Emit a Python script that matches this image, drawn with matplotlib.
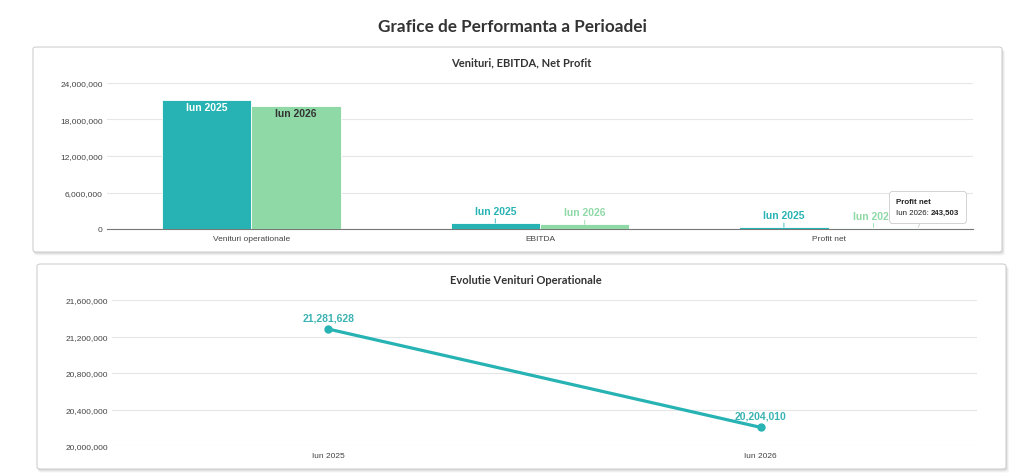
import matplotlib.pyplot as plt
import numpy as np
from matplotlib.patches import FancyBboxPatch
from matplotlib.ticker import FuncFormatter, MultipleLocator
from matplotlib.offsetbox import TextArea, HPacker, VPacker, AnnotationBbox

plt.rcParams['font.family'] = ['Liberation Sans', 'DejaVu Sans']

# data
categories = ["Venituri operationale", "EBITDA", "Profit net"]
periods = ["Iun 2025", "Iun 2026"]
values_2025 = [21281628, 990000, 300000]
values_2026 = [20204010, 770000, 243503]
evol_labels = ["Iun 2025", "Iun 2026"]
evol_values = [21281628, 20204010]

teal = "#27b3b3"
green = "#8fd9a6"

fig = plt.figure(figsize=(10.24, 4.77), dpi=100)
fig.patch.set_facecolor("white")
W, H = 1024.0, 477.0


def card(x0, y0, x1, y1, title):
    # shadow then card, pixel coords from top-left
    for i, a in enumerate([0.06, 0.05, 0.04]):
        sh = FancyBboxPatch(((x0 + 1) / W, 1 - (y1 + 1.5 + i) / H), (x1 - x0 + i) / W, (y1 - y0) / H,
                            boxstyle="round,pad=0,rounding_size=0.004",
                            transform=fig.transFigure, facecolor="black", alpha=a,
                            edgecolor="none", zorder=0)
        fig.add_artist(sh)
    c = FancyBboxPatch((x0 / W, 1 - y1 / H), (x1 - x0) / W, (y1 - y0) / H,
                       boxstyle="round,pad=0,rounding_size=0.004",
                       transform=fig.transFigure, facecolor="white",
                       edgecolor="#d0d0d0", linewidth=0.8, zorder=0.5)
    fig.add_artist(c)
    fig.text((x0 + x1) / 2 / W + 0.004, 1 - (y0 + 15) / H, title, ha="center", va="center",
             fontsize=8, fontweight="bold", color="#333333", family=["Lato", "DejaVu Sans"], zorder=1)


card(33, 48, 1002, 253, "Venituri, EBITDA, Net Profit")
card(37, 265, 1006, 470, "Evolutie Venituri Operationale")

fig.text(0.5, 1 - 27.5 / H, "Grafice de Performanta a Perioadei", ha="center", va="center",
         fontsize=12.3, fontweight="bold", color="#333333", family=["Lato", "DejaVu Sans"])

fmt = FuncFormatter(lambda v, p: f"{v:,.0f}")

# top chart
ax1 = fig.add_axes([107 / W, 1 - 230 / H, 866 / W, 146 / H])
ax1.set_zorder(2)
ax1.patch.set_alpha(0)
x = np.arange(len(categories))
bw = 0.31
b1 = ax1.bar(x - bw / 2, values_2025, bw, color=teal, edgecolor="white", linewidth=0.6, zorder=3)
b2 = ax1.bar(x + bw / 2, values_2026, bw, color=green, edgecolor="white", linewidth=0.6, zorder=3)
ax1.set_xlim(-0.5, len(categories) - 0.5)
ax1.set_ylim(0, 24000000)
ax1.yaxis.set_major_locator(MultipleLocator(6000000))
ax1.yaxis.set_major_formatter(fmt)
ax1.set_xticks(x)
ax1.set_xticklabels(categories)
ax1.tick_params(axis="both", length=0, labelsize=6, labelcolor="#444444", pad=3)
ax1.tick_params(axis="x", pad=4)
ax1.grid(axis="y", color="#e6e6e6", linewidth=0.8, zorder=0)
for s in ["top", "right", "left"]:
    ax1.spines[s].set_visible(False)
ax1.spines["bottom"].set_color("#777777")
ax1.spines["bottom"].set_linewidth(0.8)

for bars, vals, col, inner, lab in [(b1, values_2025, teal, "white", periods[0]),
                                    (b2, values_2026, green, "#333333", periods[1])]:
    for rect, v in zip(bars, vals):
        cx = rect.get_x() + rect.get_width() / 2
        if v > 2400000:
            ax1.annotate(lab, (cx, v), xytext=(0, -1.5), textcoords="offset points",
                         ha="center", va="top", fontsize=7.5, fontweight="bold", color=inner, zorder=4)
        else:
            ax1.annotate(lab, (cx, v), xytext=(0, 5), textcoords="offset points",
                         ha="center", va="bottom", fontsize=7.5, fontweight="bold", color=col, zorder=4,
                         arrowprops=dict(arrowstyle="-", color=col, lw=0.6, shrinkA=0, shrinkB=0))

# tooltip on Profit net, Iun 2026 (covers part of the label, as in the hover state)
pr = b2[2]
anchor = (pr.get_x() + pr.get_width(), values_2026[2])
tp = dict(fontsize=5.7, color="#222222")
tpb = dict(fontsize=5.7, color="#222222", fontweight="bold")
line1 = TextArea("Profit net", textprops=tpb)
line2 = HPacker(children=[TextArea(f"{periods[1]}: ", textprops=tp),
                          TextArea(f"{values_2026[2]:,}", textprops=tpb)], pad=0, sep=0)
tip = VPacker(children=[line1, line2], pad=0, sep=3, align="left")
ab = AnnotationBbox(tip, anchor, xybox=(-16, 8.5), xycoords="data", boxcoords="offset points",
                    box_alignment=(0, 0), pad=0.5, frameon=True, zorder=6,
                    bboxprops=dict(boxstyle="round,pad=0.5,rounding_size=0.25", facecolor="white",
                                   edgecolor="#cccccc", lw=0.6),
                    arrowprops=dict(arrowstyle="-", color="#cccccc", lw=0.6, shrinkA=0, shrinkB=0))
ax1.add_artist(ab)

# bottom chart
ax2 = fig.add_axes([112 / W, 1 - 447 / H, 865 / W, 146 / H])
ax2.set_zorder(2)
ax2.patch.set_alpha(0)
xe = np.arange(len(evol_labels))
ax2.plot(xe, evol_values, color=teal, linewidth=2.3, marker="o", markersize=5, zorder=3)
ax2.set_xlim(-0.5, len(evol_labels) - 0.5)
ax2.set_ylim(20000000, 21600000)
ax2.yaxis.set_major_locator(MultipleLocator(400000))
ax2.yaxis.set_major_formatter(fmt)
ax2.set_xticks(xe)
ax2.set_xticklabels(evol_labels)
ax2.tick_params(axis="both", length=0, labelsize=6, labelcolor="#444444", pad=3)
ax2.tick_params(axis="x", pad=4)
ax2.grid(axis="y", color="#e6e6e6", linewidth=0.8, zorder=0)
for s in ["top", "right", "left", "bottom"]:
    ax2.spines[s].set_visible(False)
for xi, v in zip(xe, evol_values):
    ax2.annotate(f"{v:,}", (xi, v), xytext=(0, 5), textcoords="offset points",
                 ha="center", va="bottom", fontsize=7.5, fontweight="bold", color="#3bb3b3", zorder=4)

fig.savefig("out.png", dpi=100, facecolor="white")
